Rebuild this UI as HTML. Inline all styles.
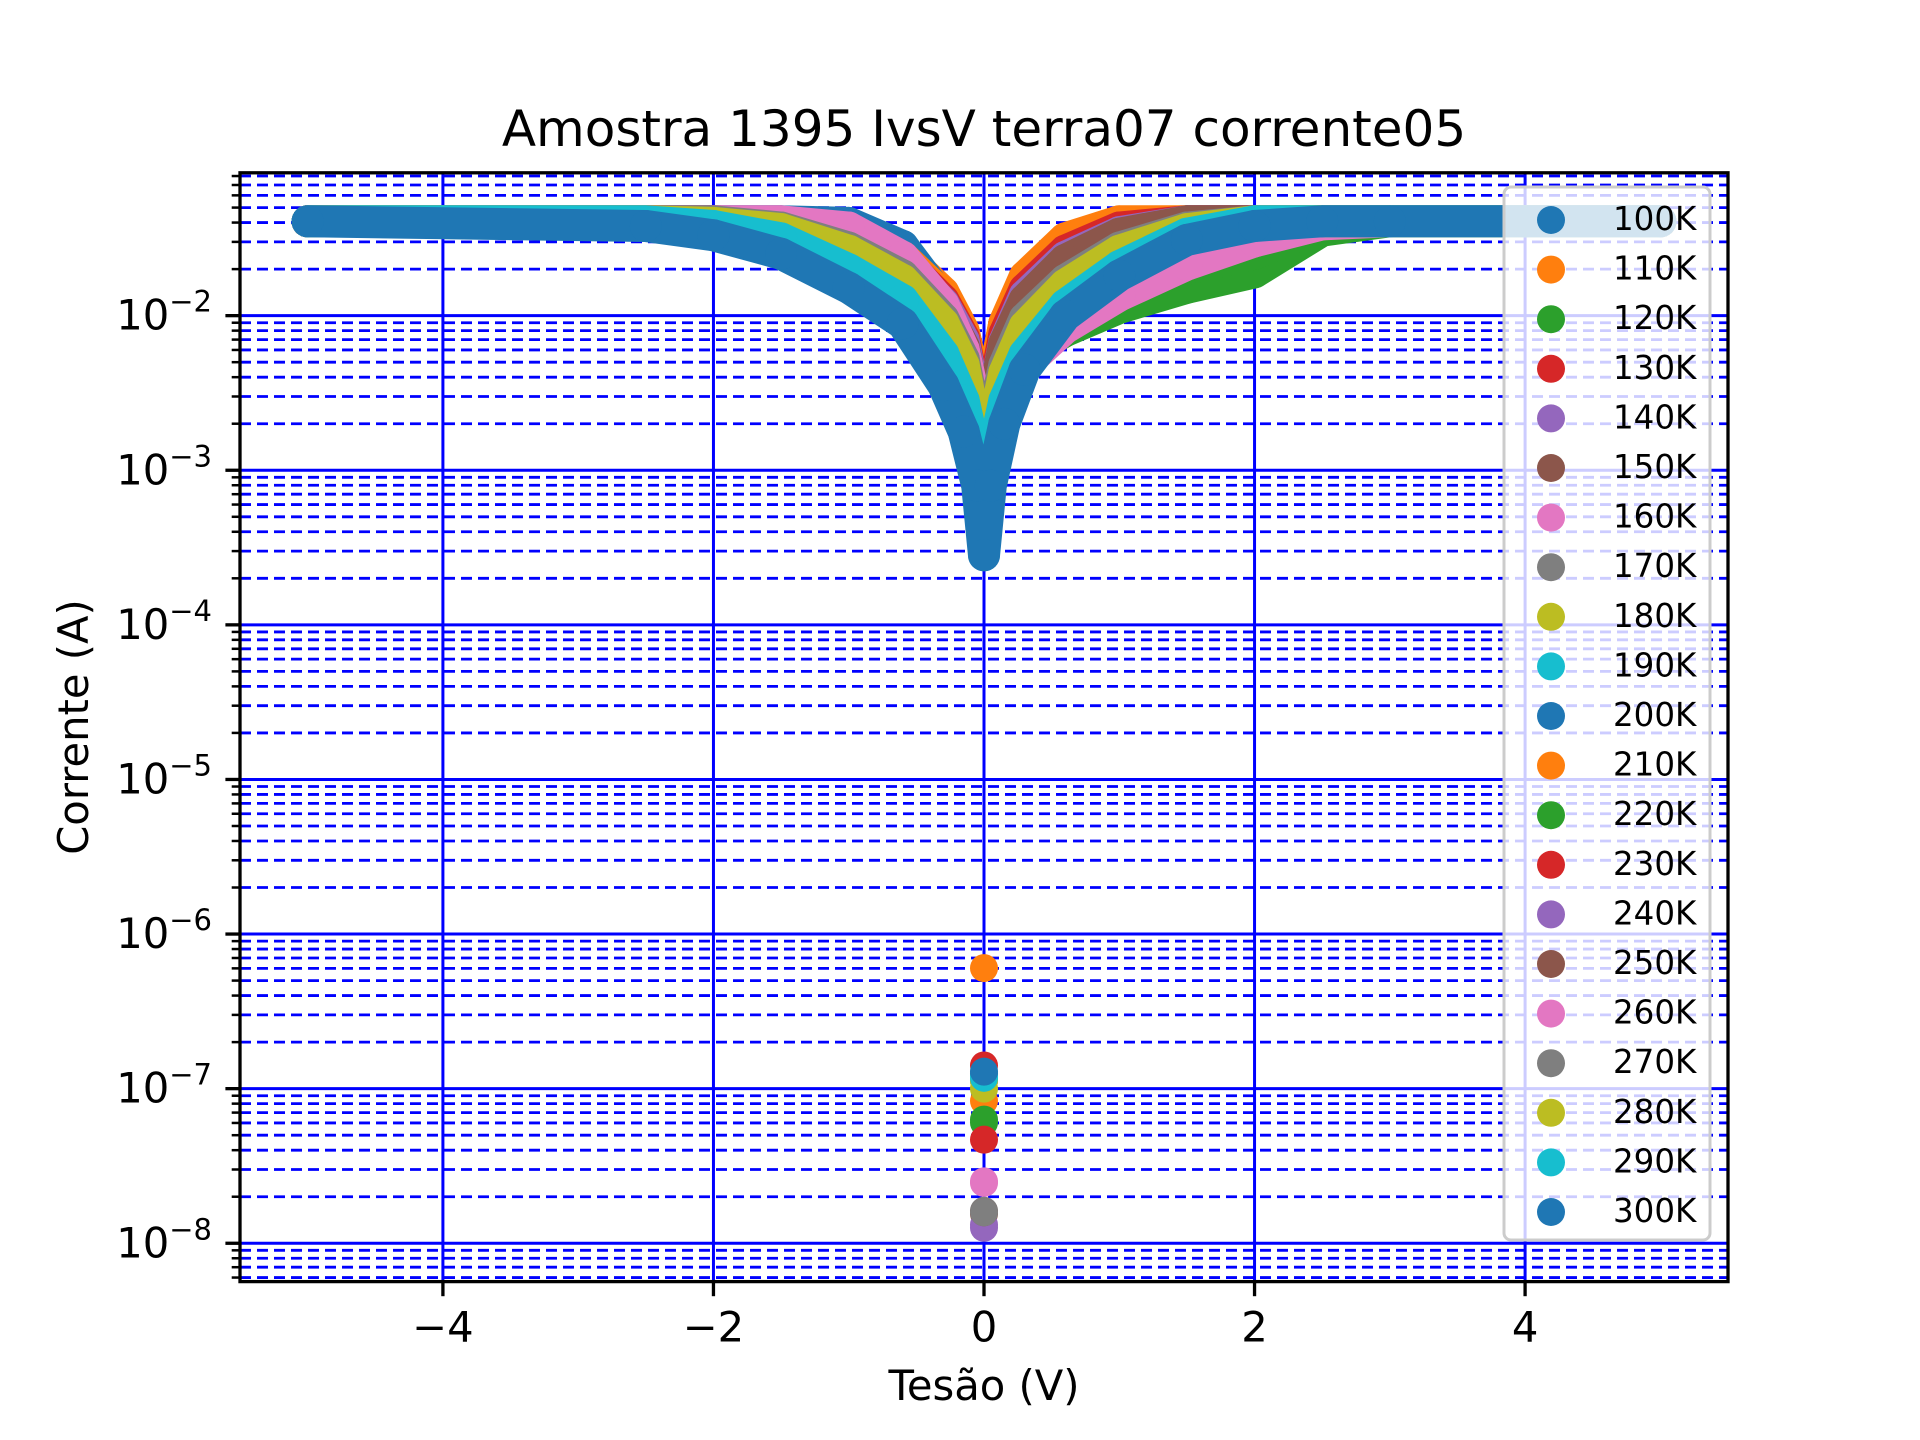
<!DOCTYPE html>
<html><head><meta charset="utf-8"><style>
html,body{margin:0;padding:0;background:#fff}
svg{display:block;font-family:"DejaVu Sans","Liberation Sans",sans-serif}
</style></head><body>
<svg id="chart" width="1920" height="1440" viewBox="0 0 1920 1440" xmlns="http://www.w3.org/2000/svg">
<rect width="1920" height="1440" fill="#fff"/>
<defs><clipPath id="plotclip"><rect x="240" y="172.8" width="1488" height="1108.8"/></clipPath></defs>
<g id="grid"></g>
<g id="series" clip-path="url(#plotclip)"></g>
<g id="axes"></g>
<g id="legend"></g>
<text x="984" y="146" font-size="50" text-anchor="middle">Amostra 1395 IvsV terra07 corrente05</text>
<text x="984" y="1400" font-size="41.7" text-anchor="middle">Tesão (V)</text>
<text x="0" y="0" font-size="41.7" text-anchor="middle" transform="translate(88,727) rotate(-90)">Corrente (A)</text>
</svg>
<script>
// ---- data ----
const labels = ["100K","110K","120K","130K","140K","150K","160K","170K","180K","190K","200K","210K","220K","230K","240K","250K","260K","270K","280K","290K","300K"];
const colors = ["#1f77b4","#ff7f0e","#2ca02c","#d62728","#9467bd","#8c564b","#e377c2","#7f7f7f","#bcbd22","#17becf"];
const voltages = [-5,-2.5,-2,-1.5,-1,-0.6,-0.3,-0.15,-0.05,0,0.05,0.15,0.3,0.6,1,1.5,2,2.5,3,4,5];
// log10 of current (A) per series at each voltage
const s100 = [-1.39,-1.39,-1.42,-1.5,-1.65,-1.85,-2.15,-2.4,-2.8,-3.3,-2.8,-2.4,-2.1,-1.85,-1.7,-1.6,-1.5,-1.42,-1.39,-1.39,-1.39];
const s110 = [-1.39,-1.39,-1.39,-1.4,-1.45,-1.6,-1.85,-2.1,-2.5,-3.2,-2.5,-2.05,-1.75,-1.5,-1.39,-1.39,-1.39,-1.39,-1.39,-1.39,-1.39];
const s120 = [-1.39,-1.39,-1.4,-1.45,-1.6,-1.8,-2.1,-2.4,-2.8,-3.3,-2.9,-2.5,-2.25,-2.1,-1.95,-1.82,-1.72,-1.45,-1.39,-1.39,-1.39];
const s130 = [-1.39,-1.39,-1.39,-1.41,-1.48,-1.63,-1.88,-2.12,-2.55,-3.25,-2.55,-2.1,-1.8,-1.55,-1.41,-1.39,-1.39,-1.39,-1.39,-1.39,-1.39];
const s140 = [-1.39,-1.39,-1.39,-1.41,-1.5,-1.65,-1.9,-2.15,-2.6,-3.3,-2.6,-2.15,-1.85,-1.6,-1.45,-1.39,-1.39,-1.39,-1.39,-1.39,-1.39];
const s150 = [-1.39,-1.39,-1.39,-1.41,-1.5,-1.66,-1.92,-2.17,-2.6,-3.3,-2.6,-2.15,-1.87,-1.62,-1.46,-1.39,-1.39,-1.39,-1.39,-1.39,-1.39];
const s160 = [-1.39,-1.39,-1.39,-1.39,-1.42,-1.6,-1.9,-2.2,-2.6,-3.3,-2.8,-2.5,-2.3,-2.05,-1.85,-1.65,-1.5,-1.4,-1.39,-1.39,-1.39];
const s170 = [-1.39,-1.39,-1.39,-1.42,-1.55,-1.72,-2.0,-2.25,-2.7,-3.3,-2.7,-2.3,-2.0,-1.75,-1.55,-1.42,-1.39,-1.39,-1.39,-1.39,-1.39];
const s180 = [-1.39,-1.39,-1.4,-1.43,-1.57,-1.75,-2.03,-2.3,-2.75,-3.35,-2.75,-2.35,-2.05,-1.78,-1.57,-1.43,-1.39,-1.39,-1.39,-1.39,-1.39];
const s190 = [-1.39,-1.39,-1.41,-1.47,-1.65,-1.85,-2.2,-2.5,-2.9,-3.4,-2.9,-2.5,-2.2,-1.9,-1.65,-1.45,-1.39,-1.39,-1.39,-1.39,-1.39];
const s200 = [-1.39,-1.39,-1.39,-1.39,-1.4,-1.55,-1.9,-2.2,-2.7,-3.3,-2.8,-2.3,-2.0,-1.7,-1.45,-1.39,-1.39,-1.39,-1.39,-1.39,-1.39];
const s210 = [-1.39,-1.39,-1.39,-1.4,-1.47,-1.62,-1.87,-2.12,-2.52,-3.2,-2.5,-2.05,-1.77,-1.52,-1.4,-1.39,-1.39,-1.39,-1.39,-1.39,-1.39];
const s220 = [-1.39,-1.39,-1.4,-1.44,-1.58,-1.78,-2.08,-2.38,-2.78,-3.3,-2.85,-2.45,-2.2,-2.0,-1.85,-1.7,-1.6,-1.42,-1.39,-1.39,-1.39];
const s230 = [-1.39,-1.39,-1.39,-1.41,-1.49,-1.64,-1.9,-2.14,-2.58,-3.3,-2.58,-2.12,-1.83,-1.58,-1.43,-1.39,-1.39,-1.39,-1.39,-1.39,-1.39];
const s240 = [-1.39,-1.39,-1.39,-1.41,-1.5,-1.66,-1.92,-2.16,-2.62,-3.3,-2.62,-2.17,-1.87,-1.62,-1.46,-1.39,-1.39,-1.39,-1.39,-1.39,-1.39];
const s250 = [-1.39,-1.39,-1.39,-1.42,-1.52,-1.68,-1.95,-2.2,-2.65,-3.3,-2.62,-2.18,-1.9,-1.64,-1.47,-1.39,-1.39,-1.39,-1.39,-1.39,-1.39];
const s260 = [-1.39,-1.39,-1.39,-1.39,-1.43,-1.62,-1.93,-2.22,-2.62,-3.3,-2.85,-2.55,-2.32,-2.08,-1.87,-1.67,-1.52,-1.41,-1.39,-1.39,-1.39];
const s270 = [-1.39,-1.39,-1.39,-1.43,-1.56,-1.74,-2.02,-2.28,-2.72,-3.3,-2.72,-2.32,-2.02,-1.77,-1.56,-1.43,-1.39,-1.39,-1.39,-1.39,-1.39];
const s280 = [-1.39,-1.39,-1.4,-1.44,-1.58,-1.77,-2.05,-2.32,-2.78,-3.35,-2.78,-2.37,-2.07,-1.8,-1.58,-1.44,-1.39,-1.39,-1.39,-1.39,-1.39];
const s290 = [-1.39,-1.39,-1.42,-1.5,-1.7,-1.9,-2.25,-2.55,-2.95,-3.45,-2.95,-2.55,-2.25,-1.93,-1.68,-1.47,-1.39,-1.39,-1.39,-1.39,-1.39];
const s300 = [-1.39,-1.42,-1.48,-1.6,-1.82,-2.05,-2.45,-2.75,-3.1,-3.55,-3.1,-2.7,-2.35,-2.0,-1.74,-1.51,-1.42,-1.39,-1.39,-1.39,-1.39];
const seriesValues = [s100,s110,s120,s130,s140,s150,s160,s170,s180,s190,s200,s210,s220,s230,s240,s250,s260,s270,s280,s290,s300];
// isolated low-current readings at V = 0 (log10 A)
const zeroPoints = [-6.95,-6.22,-7.22,-6.85,-7.9,-7.81,-7.61,-7.79,-6.95,-6.92,-6.9,-7.08,-7.2,-7.33,-7.88,-7.8,-7.6,-7.8,-7.0,-6.93,-6.89];
const xTicks = [-4,-2,0,2,4];
const xTickLabels = ["−4","−2","0","2","4"];
const yDecades = [-8,-7,-6,-5,-4,-3,-2];

// ---- scales ----
const X0=240,X1=1728,Y0=1281.6,Y1=172.8;
const xMin=-5.5,xMax=5.5,lMin=-8.248,lMax=-1.076;
function xs(v){return X0+(v-xMin)/(xMax-xMin)*(X1-X0);}
function ys(l){return Y0-(l-lMin)/(lMax-lMin)*(Y0-Y1);}
const NS="http://www.w3.org/2000/svg";
function mk(tag,attrs,parent){const e=document.createElementNS(NS,tag);for(const k in attrs)e.setAttribute(k,attrs[k]);parent.appendChild(e);return e;}

// ---- grid ----
const grid=document.getElementById('grid');
const axes=document.getElementById('axes');
for(let d=-9;d<=-1;d++){
  for(let m=1;m<=9;m++){
    const l=d+Math.log10(m);
    if(l<lMin||l>lMax)continue;
    const y=ys(l);
    const ln=mk('line',{x1:X0,x2:X1,y1:y,y2:y,stroke:'#0000ff','stroke-width':m===1?3:2.8,'stroke-dasharray':m===1?'none':'11 6'},grid);
    
    
    const tk=mk('line',{x1:X0,x2:X0-(m===1?14.6:8.3),y1:y,y2:y,stroke:'#000','stroke-width':m===1?3.3:2.5},axes);
    
    
  }
}
xTicks.forEach((v,i)=>{
  const x=xs(v);
  const gl=mk('line',{x1:x,x2:x,y1:Y1,y2:Y0,stroke:'#0000ff','stroke-width':3},grid);
  
  
  const tk=mk('line',{x1:x,x2:x,y1:Y0,y2:Y0+14.6,stroke:'#000','stroke-width':3.3},axes);
  
  
  const t=mk('text',{x:x,y:Y0+60,'font-size':41.7,'text-anchor':'middle'},axes);
  t.textContent=xTickLabels[i];
  
  
});
yDecades.forEach(d=>{
  const y=ys(d);
  const t=mk('text',{x:212,y:y+14,'font-size':41.7,'text-anchor':'end'},axes);
  
  
  const a=mk('tspan',{},t);a.textContent='10';
  const b=mk('tspan',{'font-size':29,dy:-18},t);b.textContent='−'+Math.abs(d);
});
const sp=mk('rect',{x:X0,y:Y1,width:X1-X0,height:Y0-Y1,fill:'none',stroke:'#000','stroke-width':3.3},axes);



// ---- series ----
const sg=document.getElementById('series');
seriesValues.forEach((vals,i)=>{
  const c=colors[i%10];
  const g=mk('g',{},sg);
  
  
  const pts=vals.map((l,j)=>xs(voltages[j]).toFixed(1)+','+ys(l).toFixed(1)).join(' ');
  const pl=mk('polyline',{points:pts,fill:'none',stroke:c,'stroke-width':32,'stroke-linecap':'round','stroke-linejoin':'round'},g);
  
  
  vals.forEach((l,j)=>{
    const p=mk('circle',{cx:xs(voltages[j]),cy:ys(l),r:16,fill:c},g);
    
    
  });
  const z=mk('circle',{cx:xs(0),cy:ys(zeroPoints[i]),r:14,fill:c},g);
  
  
});

// ---- legend ----
const lg=document.getElementById('legend');
const fr=mk('rect',{x:1504,y:187,width:206,height:1053,rx:7,fill:'#fff','fill-opacity':0.8,stroke:'#cccccc','stroke-width':3},lg);


labels.forEach((lab,i)=>{
  const y=220+i*49.6;
  const g=mk('g',{},lg);
  
  
  mk('circle',{cx:1551,cy:y,r:14,fill:colors[i%10]},g);
  const t=mk('text',{x:1613,y:y+10,'font-size':32.5},g);
  t.textContent=lab;
});
</script>
</body></html>
